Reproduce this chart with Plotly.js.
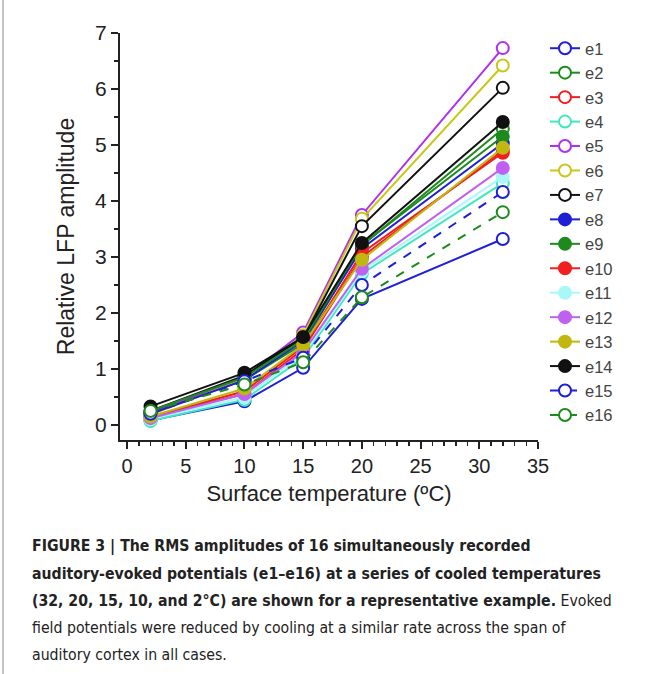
<!DOCTYPE html>
<html>
<head>
<meta charset="utf-8">
<script src="https://cdn.plot.ly/plotly-3.0.1.min.js"></script>
<style>html,body{margin:0;padding:0;background:#fff;}#chart{width:656px;height:674px;}</style>
</head>
<body>
<div id="chart"></div>
<script>
// Temperatures (°C)
const temps = [2, 10, 15, 20, 32];
const names = ["e1","e2","e3","e4","e5","e6","e7","e8","e9","e10","e11","e12","e13","e14","e15","e16"];
// Relative LFP amplitude per electrode
const e1  = [0.08, 0.42, 1.02, 2.25, 3.32];
const e2  = [0.22, 0.80, 1.45, 3.20, 5.29];
const e3  = [0.15, 0.55, 1.35, 3.00, 4.90];
const e4  = [0.07, 0.45, 1.20, 2.70, 4.32];
const e5  = [0.20, 0.85, 1.65, 3.75, 6.73];
const e6  = [0.18, 0.82, 1.60, 3.68, 6.42];
const e7  = [0.25, 0.88, 1.55, 3.55, 6.02];
const e8  = [0.20, 0.80, 1.50, 3.15, 5.03];
const e9  = [0.25, 0.85, 1.52, 3.22, 5.15];
const e10 = [0.15, 0.60, 1.40, 3.07, 4.86];
const e11 = [0.10, 0.50, 1.25, 2.75, 4.43];
const e12 = [0.12, 0.55, 1.30, 2.79, 4.59];
const e13 = [0.15, 0.65, 1.43, 2.95, 4.95];
const e14 = [0.33, 0.93, 1.57, 3.25, 5.41];
const e15 = [0.20, 0.78, 1.20, 2.50, 4.16];
const e16 = [0.25, 0.72, 1.12, 2.28, 3.80];
const values = [e1,e2,e3,e4,e5,e6,e7,e8,e9,e10,e11,e12,e13,e14,e15,e16];

const colors = ["#1f1fd6","#1e8a1e","#f02020","#40e8c0","#b030f0","#c8c81a","#111111",
                "#1f1fd6","#1e8a1e","#f02020","#a8f8f8","#c060f0","#c0b810","#111111",
                "#1f1fd6","#1e8a1e"];
const filled = [false,false,false,false,false,false,false,true,true,true,true,true,true,true,false,false];
const dashed = [false,false,false,false,false,false,false,false,false,false,false,false,false,false,true,true];

const traces = names.map((n, i) => ({
  x: temps, y: values[i], name: n, type: 'scatter', mode: 'lines+markers',
  line: {color: colors[i], width: 2, dash: dashed[i] ? 'dash' : 'solid'},
  marker: {symbol: 'circle', size: 12, color: filled[i] ? colors[i] : '#ffffff',
           line: {color: colors[i], width: 2}}
}));

const capFont = {family: '"DejaVu Sans Condensed", "Liberation Sans Narrow", Arial, sans-serif', size: 15.7, color: '#222'};
const capLines = [
  "<b>FIGURE 3 | The RMS amplitudes of 16 simultaneously recorded</b>",
  "<b>auditory-evoked potentials (e1–e16) at a series of cooled temperatures</b>",
  "<b>(32, 20, 15, 10, and 2°C) are shown for a representative example.</b> Evoked",
  "field potentials were reduced by cooling at a similar rate across the span of",
  "auditory cortex in all cases."
];
const capY = [546, 573, 600, 627, 654];
const px2x = p => (p - 120) / 418;
const py2y = p => (440 - p) / 407;

const annotations = capLines.map((t, i) => ({
  text: t, xref: 'paper', yref: 'paper', x: px2x(30), y: py2y(capY[i]),
  xanchor: 'left', yanchor: 'middle', showarrow: false, font: capFont, align: 'left'
}));

const layout = {
  width: 656, height: 674,
  margin: {l: 120, r: 118, t: 33, b: 234},
  paper_bgcolor: '#fff', plot_bgcolor: '#fff',
  font: {family: '"Liberation Sans", Arial, sans-serif', color: '#222'},
  showlegend: true,
  legend: {x: px2x(545), y: py2y(31), xanchor: 'left', yanchor: 'top', maxheight: 700,
           font: {size: 16.5, color: '#444'}, bgcolor: 'rgba(0,0,0,0)', tracegroupgap: 0},
  xaxis: {
    range: [-0.6, 35], showgrid: false, zeroline: false, showline: true, linecolor: '#222', linewidth: 2,
    ticks: 'outside', ticklen: 7, tickwidth: 2, tickcolor: '#222', dtick: 5, tick0: 0,
    tickfont: {size: 20, color: '#222'},
    minor: {dtick: 1, ticks: 'outside', ticklen: 4, tickwidth: 1.5, tickcolor: '#222', showgrid: false},
    title: {text: 'Surface temperature (ºC)', font: {size: 22, color: '#222'}, standoff: 10}
  },
  yaxis: {
    range: [-0.27, 7], showgrid: false, zeroline: false, showline: true, linecolor: '#222', linewidth: 2,
    ticks: 'outside', ticklen: 7, tickwidth: 2, tickcolor: '#222', dtick: 1, tick0: 0,
    tickfont: {size: 21, color: '#222'},
    minor: {dtick: 0.5, ticks: 'outside', ticklen: 4, tickwidth: 1.5, tickcolor: '#222', showgrid: false},
    title: {text: 'Relative LFP amplitude', font: {size: 23, color: '#222'}, standoff: 14}
  },
  annotations: annotations,
  shapes: [{type: 'line', xref: 'paper', yref: 'paper', x0: px2x(3), x1: px2x(3), y0: py2y(0), y1: py2y(674),
            line: {color: '#888', width: 1}}]
};

Plotly.newPlot('chart', traces, layout, {displayModeBar: false, staticPlot: true});
</script>
</body>
</html>
